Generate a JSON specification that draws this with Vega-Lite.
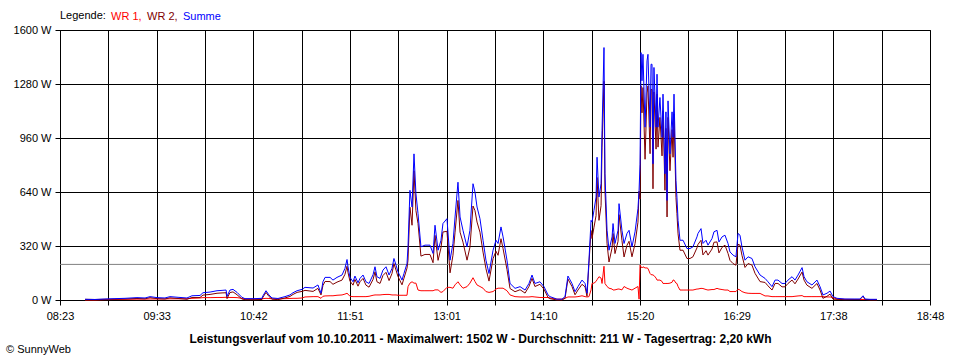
{
"$schema": "https://vega.github.io/schema/vega-lite/v6.json",
"width": 870, "height": 270,
"autosize": "none",
"padding": {"left": 60, "top": 30, "right": 30, "bottom": 60},
"background": "white",
"config": {"font": "Liberation Sans", "view": {"stroke": "#000", "strokeWidth": 1}},
"title": {"text": "© SunnyWeb", "orient": "bottom", "anchor": "start", "frame": "bounds", "fontSize": 11, "fontWeight": "normal", "color": "#000", "offset": 0, "dx": -7},
"layer": [
{"data": {"values": [{"avg": 211}]},
 "mark": {"type": "rule", "color": "#808080", "strokeWidth": 1},
 "encoding": {"y": {"field": "avg", "type": "quantitative", "scale": {"domain": [0, 1600], "nice": false},
   "axis": {"title": null, "values": [0, 320, 640, 960, 1280, 1600], "labelExpr": "datum.value + ' W'", "grid": true, "gridColor": "#000", "gridOpacity": 1, "domainColor": "#000", "tickColor": "#000", "tickSize": 5, "labelPadding": 4, "labelFontSize": 11, "labelColor": "#000"}}}},
{"data": {"values": [
{"t":521.0,"WR 1":0,"WR 2":4,"Summe":4},
{"t":528.1,"WR 1":0,"WR 2":3,"Summe":3},
{"t":535.3,"WR 1":2,"WR 2":4,"Summe":6},
{"t":542.5,"WR 1":3,"WR 2":5,"Summe":8},
{"t":549.7,"WR 1":4,"WR 2":6,"Summe":10},
{"t":558.3,"WR 1":5,"WR 2":9,"Summe":14},
{"t":564.1,"WR 1":5,"WR 2":7,"Summe":12},
{"t":567.7,"WR 1":6,"WR 2":14,"Summe":20},
{"t":572.7,"WR 1":6,"WR 2":8,"Summe":14},
{"t":578.4,"WR 1":6,"WR 2":6,"Summe":12},
{"t":582.0,"WR 1":7,"WR 2":13,"Summe":20},
{"t":587.8,"WR 1":7,"WR 2":9,"Summe":16},
{"t":594.2,"WR 1":8,"WR 2":4,"Summe":12},
{"t":597.8,"WR 1":10,"WR 2":15,"Summe":25},
{"t":603.6,"WR 1":12,"WR 2":15,"Summe":27},
{"t":605.7,"WR 1":14,"WR 2":29,"Summe":43},
{"t":610.8,"WR 1":14,"WR 2":33,"Summe":47},
{"t":615.8,"WR 1":15,"WR 2":40,"Summe":55},
{"t":619.4,"WR 1":15,"WR 2":42,"Summe":57},
{"t":622.3,"WR 1":16,"WR 2":43,"Summe":59},
{"t":623.0,"WR 1":14,"WR 2":8,"Summe":22},
{"t":625.1,"WR 1":15,"WR 2":44,"Summe":59},
{"t":627.3,"WR 1":15,"WR 2":48,"Summe":63},
{"t":630.2,"WR 1":14,"WR 2":31,"Summe":45},
{"t":633.7,"WR 1":10,"WR 2":6,"Summe":16},
{"t":635.9,"WR 1":6,"WR 2":2,"Summe":8},
{"t":643.1,"WR 1":6,"WR 2":2,"Summe":8},
{"t":648.1,"WR 1":7,"WR 2":3,"Summe":10},
{"t":648.8,"WR 1":8,"WR 2":17,"Summe":25},
{"t":651.0,"WR 1":10,"WR 2":45,"Summe":55},
{"t":653.1,"WR 1":9,"WR 2":21,"Summe":30},
{"t":655.3,"WR 1":7,"WR 2":5,"Summe":12},
{"t":659.6,"WR 1":7,"WR 2":2,"Summe":9},
{"t":664.6,"WR 1":8,"WR 2":12,"Summe":20},
{"t":668.2,"WR 1":9,"WR 2":21,"Summe":30},
{"t":670.4,"WR 1":10,"WR 2":33,"Summe":43},
{"t":673.3,"WR 1":10,"WR 2":45,"Summe":55},
{"t":676.9,"WR 1":12,"WR 2":51,"Summe":63},
{"t":679.0,"WR 1":18,"WR 2":57,"Summe":75},
{"t":684.8,"WR 1":20,"WR 2":51,"Summe":71},
{"t":688.3,"WR 1":20,"WR 2":69,"Summe":89},
{"t":690.5,"WR 1":10,"WR 2":30,"Summe":40},
{"t":691.9,"WR 1":22,"WR 2":86,"Summe":108},
{"t":693.4,"WR 1":24,"WR 2":110,"Summe":134},
{"t":697.0,"WR 1":25,"WR 2":109,"Summe":134},
{"t":699.1,"WR 1":25,"WR 2":93,"Summe":118},
{"t":702.0,"WR 1":28,"WR 2":106,"Summe":134},
{"t":705.6,"WR 1":30,"WR 2":118,"Summe":148},
{"t":707.7,"WR 1":35,"WR 2":152,"Summe":187},
{"t":709.2,"WR 1":40,"WR 2":200,"Summe":240},
{"t":709.9,"WR 1":35,"WR 2":162,"Summe":197},
{"t":711.3,"WR 1":22,"WR 2":112,"Summe":134},
{"t":713.5,"WR 1":20,"WR 2":88,"Summe":108},
{"t":714.9,"WR 1":20,"WR 2":122,"Summe":142},
{"t":717.1,"WR 1":20,"WR 2":82,"Summe":102},
{"t":718.5,"WR 1":20,"WR 2":108,"Summe":128},
{"t":720.7,"WR 1":20,"WR 2":128,"Summe":148},
{"t":722.8,"WR 1":20,"WR 2":88,"Summe":108},
{"t":725.0,"WR 1":22,"WR 2":76,"Summe":98},
{"t":727.9,"WR 1":28,"WR 2":122,"Summe":150},
{"t":729.3,"WR 1":30,"WR 2":167,"Summe":197},
{"t":730.7,"WR 1":30,"WR 2":108,"Summe":138},
{"t":732.9,"WR 1":30,"WR 2":98,"Summe":128},
{"t":735.0,"WR 1":32,"WR 2":145,"Summe":177},
{"t":737.2,"WR 1":33,"WR 2":164,"Summe":197},
{"t":739.4,"WR 1":33,"WR 2":115,"Summe":148},
{"t":741.5,"WR 1":30,"WR 2":157,"Summe":187},
{"t":742.9,"WR 1":30,"WR 2":216,"Summe":246},
{"t":744.4,"WR 1":30,"WR 2":177,"Summe":207},
{"t":745.8,"WR 1":28,"WR 2":139,"Summe":167},
{"t":748.7,"WR 1":28,"WR 2":90,"Summe":118},
{"t":750.1,"WR 1":28,"WR 2":129,"Summe":157},
{"t":752.3,"WR 1":28,"WR 2":189,"Summe":217},
{"t":753.0,"WR 1":79,"WR 2":236,"Summe":315},
{"t":754.4,"WR 1":100,"WR 2":550,"Summe":650},
{"t":755.9,"WR 1":108,"WR 2":443,"Summe":551},
{"t":757.3,"WR 1":100,"WR 2":766,"Summe":866},
{"t":758.7,"WR 1":100,"WR 2":530,"Summe":630},
{"t":760.2,"WR 1":59,"WR 2":453,"Summe":512},
{"t":762.3,"WR 1":55,"WR 2":260,"Summe":315},
{"t":765.2,"WR 1":55,"WR 2":270,"Summe":325},
{"t":768.8,"WR 1":55,"WR 2":270,"Summe":325},
{"t":771.0,"WR 1":55,"WR 2":221,"Summe":276},
{"t":772.4,"WR 1":60,"WR 2":383,"Summe":443},
{"t":774.6,"WR 1":60,"WR 2":235,"Summe":295},
{"t":776.7,"WR 1":45,"WR 2":309,"Summe":354},
{"t":778.1,"WR 1":50,"WR 2":403,"Summe":453},
{"t":781.0,"WR 1":75,"WR 2":407,"Summe":482},
{"t":783.2,"WR 1":75,"WR 2":161,"Summe":236},
{"t":785.3,"WR 1":70,"WR 2":265,"Summe":335},
{"t":786.8,"WR 1":90,"WR 2":402,"Summe":492},
{"t":788.9,"WR 1":108,"WR 2":590,"Summe":698},
{"t":790.4,"WR 1":90,"WR 2":402,"Summe":492},
{"t":792.5,"WR 1":70,"WR 2":343,"Summe":413},
{"t":795.4,"WR 1":79,"WR 2":236,"Summe":315},
{"t":797.5,"WR 1":100,"WR 2":313,"Summe":413},
{"t":799.7,"WR 1":132,"WR 2":557,"Summe":689},
{"t":801.1,"WR 1":110,"WR 2":530,"Summe":640},
{"t":802.6,"WR 1":89,"WR 2":462,"Summe":551},
{"t":804.7,"WR 1":80,"WR 2":402,"Summe":482},
{"t":806.9,"WR 1":70,"WR 2":284,"Summe":354},
{"t":809.0,"WR 1":50,"WR 2":186,"Summe":236},
{"t":811.2,"WR 1":45,"WR 2":112,"Summe":157},
{"t":814.1,"WR 1":50,"WR 2":245,"Summe":295},
{"t":816.2,"WR 1":65,"WR 2":289,"Summe":354},
{"t":817.7,"WR 1":70,"WR 2":265,"Summe":335},
{"t":819.8,"WR 1":70,"WR 2":363,"Summe":433},
{"t":821.3,"WR 1":70,"WR 2":304,"Summe":374},
{"t":824.1,"WR 1":55,"WR 2":181,"Summe":236},
{"t":826.3,"WR 1":30,"WR 2":68,"Summe":98},
{"t":829.9,"WR 1":20,"WR 2":49,"Summe":69},
{"t":833.5,"WR 1":18,"WR 2":61,"Summe":79},
{"t":837.1,"WR 1":18,"WR 2":41,"Summe":59},
{"t":839.9,"WR 1":18,"WR 2":80,"Summe":98},
{"t":842.1,"WR 1":20,"WR 2":128,"Summe":148},
{"t":844.2,"WR 1":18,"WR 2":80,"Summe":98},
{"t":847.8,"WR 1":15,"WR 2":93,"Summe":108},
{"t":850.7,"WR 1":15,"WR 2":64,"Summe":79},
{"t":853.6,"WR 1":15,"WR 2":15,"Summe":30},
{"t":855.0,"WR 1":12,"WR 2":8,"Summe":20},
{"t":860.0,"WR 1":5,"WR 2":0,"Summe":5},
{"t":863.6,"WR 1":5,"WR 2":0,"Summe":5},
{"t":865.8,"WR 1":10,"WR 2":10,"Summe":20},
{"t":867.9,"WR 1":18,"WR 2":124,"Summe":142},
{"t":870.8,"WR 1":18,"WR 2":80,"Summe":98},
{"t":873.0,"WR 1":18,"WR 2":31,"Summe":49},
{"t":875.1,"WR 1":20,"WR 2":59,"Summe":79},
{"t":878.0,"WR 1":25,"WR 2":93,"Summe":118},
{"t":880.2,"WR 1":20,"WR 2":78,"Summe":98},
{"t":881.6,"WR 1":18,"WR 2":22,"Summe":40},
{"t":883.0,"WR 1":20,"WR 2":216,"Summe":236},
{"t":884.5,"WR 1":60,"WR 2":412,"Summe":472},
{"t":885.2,"WR 1":98,"WR 2":364,"Summe":462},
{"t":886.6,"WR 1":100,"WR 2":431,"Summe":531},
{"t":888.1,"WR 1":110,"WR 2":500,"Summe":610},
{"t":888.8,"WR 1":120,"WR 2":726,"Summe":846},
{"t":890.2,"WR 1":138,"WR 2":472,"Summe":610},
{"t":891.7,"WR 1":130,"WR 2":559,"Summe":689},
{"t":892.4,"WR 1":98,"WR 2":906,"Summe":1004},
{"t":893.8,"WR 1":200,"WR 2":1296,"Summe":1496},
{"t":894.5,"WR 1":98,"WR 2":650,"Summe":748},
{"t":896.0,"WR 1":80,"WR 2":333,"Summe":413},
{"t":897.4,"WR 1":70,"WR 2":225,"Summe":295},
{"t":899.6,"WR 1":65,"WR 2":309,"Summe":374},
{"t":900.3,"WR 1":59,"WR 2":394,"Summe":453},
{"t":901.7,"WR 1":60,"WR 2":275,"Summe":335},
{"t":903.9,"WR 1":65,"WR 2":348,"Summe":413},
{"t":904.6,"WR 1":65,"WR 2":506,"Summe":571},
{"t":906.7,"WR 1":60,"WR 2":353,"Summe":413},
{"t":908.2,"WR 1":80,"WR 2":255,"Summe":335},
{"t":910.3,"WR 1":70,"WR 2":324,"Summe":394},
{"t":911.8,"WR 1":65,"WR 2":348,"Summe":413},
{"t":913.9,"WR 1":59,"WR 2":256,"Summe":315},
{"t":916.1,"WR 1":70,"WR 2":334,"Summe":404},
{"t":918.2,"WR 1":80,"WR 2":461,"Summe":541},
{"t":919.0,"WR 1":5,"WR 2":645,"Summe":650},
{"t":919.7,"WR 1":207,"WR 2":598,"Summe":805},
{"t":920.4,"WR 1":197,"WR 2":1269,"Summe":1466},
{"t":921.1,"WR 1":190,"WR 2":1109,"Summe":1299},
{"t":921.8,"WR 1":197,"WR 2":1259,"Summe":1456},
{"t":923.3,"WR 1":190,"WR 2":834,"Summe":1024},
{"t":924.7,"WR 1":190,"WR 2":1227,"Summe":1417},
{"t":925.4,"WR 1":187,"WR 2":1269,"Summe":1456},
{"t":926.9,"WR 1":157,"WR 2":867,"Summe":1024},
{"t":927.6,"WR 1":150,"WR 2":1247,"Summe":1397},
{"t":928.3,"WR 1":150,"WR 2":1247,"Summe":1397},
{"t":929.0,"WR 1":148,"WR 2":659,"Summe":807},
{"t":929.7,"WR 1":145,"WR 2":1233,"Summe":1378},
{"t":931.2,"WR 1":130,"WR 2":894,"Summe":1024},
{"t":931.9,"WR 1":118,"WR 2":1220,"Summe":1338},
{"t":932.6,"WR 1":118,"WR 2":906,"Summe":1024},
{"t":934.0,"WR 1":118,"WR 2":1082,"Summe":1200},
{"t":935.5,"WR 1":110,"WR 2":854,"Summe":964},
{"t":936.2,"WR 1":98,"WR 2":1122,"Summe":1220},
{"t":937.6,"WR 1":98,"WR 2":650,"Summe":748},
{"t":938.3,"WR 1":98,"WR 2":1017,"Summe":1115},
{"t":939.1,"WR 1":98,"WR 2":492,"Summe":590},
{"t":939.8,"WR 1":98,"WR 2":1082,"Summe":1180},
{"t":941.2,"WR 1":100,"WR 2":766,"Summe":866},
{"t":942.7,"WR 1":105,"WR 2":1010,"Summe":1115},
{"t":943.4,"WR 1":118,"WR 2":846,"Summe":964},
{"t":944.1,"WR 1":118,"WR 2":1102,"Summe":1220},
{"t":945.5,"WR 1":100,"WR 2":608,"Summe":708},
{"t":946.2,"WR 1":98,"WR 2":512,"Summe":610},
{"t":947.0,"WR 1":80,"WR 2":392,"Summe":472},
{"t":948.4,"WR 1":59,"WR 2":295,"Summe":354},
{"t":950.6,"WR 1":59,"WR 2":295,"Summe":354},
{"t":953.4,"WR 1":59,"WR 2":246,"Summe":305},
{"t":955.6,"WR 1":59,"WR 2":246,"Summe":305},
{"t":957.7,"WR 1":59,"WR 2":256,"Summe":315},
{"t":960.6,"WR 1":65,"WR 2":309,"Summe":374},
{"t":961.3,"WR 1":65,"WR 2":329,"Summe":394},
{"t":963.5,"WR 1":69,"WR 2":354,"Summe":423},
{"t":964.9,"WR 1":68,"WR 2":267,"Summe":335},
{"t":967.1,"WR 1":62,"WR 2":292,"Summe":354},
{"t":968.5,"WR 1":59,"WR 2":266,"Summe":325},
{"t":971.4,"WR 1":62,"WR 2":302,"Summe":364},
{"t":972.8,"WR 1":62,"WR 2":342,"Summe":404},
{"t":975.0,"WR 1":69,"WR 2":344,"Summe":413},
{"t":976.4,"WR 1":65,"WR 2":279,"Summe":344},
{"t":978.6,"WR 1":62,"WR 2":312,"Summe":374},
{"t":980.7,"WR 1":59,"WR 2":325,"Summe":384},
{"t":982.9,"WR 1":59,"WR 2":276,"Summe":335},
{"t":984.3,"WR 1":50,"WR 2":235,"Summe":285},
{"t":986.5,"WR 1":50,"WR 2":216,"Summe":266},
{"t":988.6,"WR 1":50,"WR 2":206,"Summe":256},
{"t":990.1,"WR 1":64,"WR 2":330,"Summe":394},
{"t":991.5,"WR 1":59,"WR 2":325,"Summe":384},
{"t":992.9,"WR 1":50,"WR 2":265,"Summe":315},
{"t":995.1,"WR 1":43,"WR 2":193,"Summe":236},
{"t":997.3,"WR 1":40,"WR 2":216,"Summe":256},
{"t":1000.1,"WR 1":39,"WR 2":207,"Summe":246},
{"t":1002.3,"WR 1":39,"WR 2":158,"Summe":197},
{"t":1005.9,"WR 1":39,"WR 2":109,"Summe":148},
{"t":1009.5,"WR 1":24,"WR 2":104,"Summe":128},
{"t":1011.6,"WR 1":24,"WR 2":84,"Summe":108},
{"t":1014.5,"WR 1":20,"WR 2":59,"Summe":79},
{"t":1016.7,"WR 1":20,"WR 2":98,"Summe":118},
{"t":1018.8,"WR 1":20,"WR 2":98,"Summe":118},
{"t":1021.7,"WR 1":20,"WR 2":78,"Summe":98},
{"t":1023.8,"WR 1":20,"WR 2":78,"Summe":98},
{"t":1026.0,"WR 1":20,"WR 2":98,"Summe":118},
{"t":1028.9,"WR 1":20,"WR 2":118,"Summe":138},
{"t":1031.0,"WR 1":22,"WR 2":96,"Summe":118},
{"t":1033.2,"WR 1":24,"WR 2":124,"Summe":148},
{"t":1036.1,"WR 1":26,"WR 2":166,"Summe":192},
{"t":1037.5,"WR 1":20,"WR 2":118,"Summe":138},
{"t":1039.6,"WR 1":20,"WR 2":88,"Summe":108},
{"t":1043.2,"WR 1":20,"WR 2":69,"Summe":89},
{"t":1046.8,"WR 1":20,"WR 2":98,"Summe":118},
{"t":1049.0,"WR 1":20,"WR 2":59,"Summe":79},
{"t":1051.1,"WR 1":20,"WR 2":10,"Summe":30},
{"t":1054.0,"WR 1":18,"WR 2":22,"Summe":40},
{"t":1056.2,"WR 1":18,"WR 2":35,"Summe":53},
{"t":1058.3,"WR 1":15,"WR 2":5,"Summe":20},
{"t":1061.2,"WR 1":6,"WR 2":4,"Summe":10},
{"t":1066.9,"WR 1":4,"WR 2":2,"Summe":6},
{"t":1074.1,"WR 1":3,"WR 2":3,"Summe":6},
{"t":1077.7,"WR 1":3,"WR 2":3,"Summe":6},
{"t":1079.9,"WR 1":3,"WR 2":22,"Summe":25},
{"t":1081.3,"WR 1":3,"WR 2":3,"Summe":6},
{"t":1084.9,"WR 1":2,"WR 2":2,"Summe":4},
{"t":1089.9,"WR 1":2,"WR 2":2,"Summe":4}
]},
 "transform": [{"fold": ["WR 1", "WR 2", "Summe"], "as": ["Serie", "W"]}],
 "mark": {"type": "line", "strokeWidth": 1, "interpolate": "linear"},
 "encoding": {
  "x": {"field": "t", "type": "quantitative", "scale": {"domain": [503, 1128], "nice": false, "zero": false},
   "axis": {"values": [503, 537.7222, 572.4444, 607.1667, 641.8889, 676.6111, 711.3333, 746.0556, 780.7778, 815.5, 850.2222, 884.9444, 919.6667, 954.3889, 989.1111, 1023.8333, 1058.5556, 1093.2778, 1128],
    "labelExpr": "['08:23','','09:33','','10:42','','11:51','','13:01','','14:10','','15:20','','16:29','','17:38','','18:48'][round((datum.value-503)/34.7222)]",
    "labelOverlap": false, "labelFlush": false, "grid": true, "gridColor": "#000", "gridOpacity": 1, "domainColor": "#000", "tickColor": "#000", "tickSize": 5, "labelPadding": 5, "labelFontSize": 11, "labelColor": "#000",
    "title": "Leistungsverlauf vom 10.10.2011 - Maximalwert: 1502 W - Durchschnitt: 211 W - Tagesertrag: 2,20 kWh", "titleAlign": "center", "titleBaseline": "alphabetic", "titleX": 420, "titleY": 42, "titleFontWeight": "bold", "titleFontSize": 12, "titleColor": "#000"}},
  "y": {"field": "W", "type": "quantitative", "scale": {"domain": [0, 1600], "nice": false},
   "axis": {"title": null, "values": [0, 320, 640, 960, 1280, 1600], "labelExpr": "datum.value + ' W'", "grid": true, "gridColor": "#000", "gridOpacity": 1, "domainColor": "#000", "tickColor": "#000", "tickSize": 5, "labelPadding": 4, "labelFontSize": 11, "labelColor": "#000"}},
  "color": {"field": "Serie", "type": "nominal", "sort": ["WR 1", "WR 2", "Summe"],
   "scale": {"domain": ["WR 1", "WR 2", "Summe"], "range": ["#ff0000", "#800000", "#0000ff"]},
   "legend": {"orient": "none", "legendX": 0, "legendY": -19, "direction": "horizontal", "title": "Legende:", "titleOrient": "left", "titleFontWeight": "normal", "titleFontSize": 11, "titleColor": "#000", "titlePadding": 4, "labelFontSize": 11, "symbolSize": 0.01, "symbolStrokeWidth": 0.01, "symbolOpacity": 0, "labelOffset": -10, "columnPadding": 4,
    "labelExpr": "datum.label == 'Summe' ? 'Summe' : datum.label + ','",
    "encode": {"labels": {"update": {"fill": {"signal": "scale('color', datum.value)"}}}}}}
 }}
]
}
